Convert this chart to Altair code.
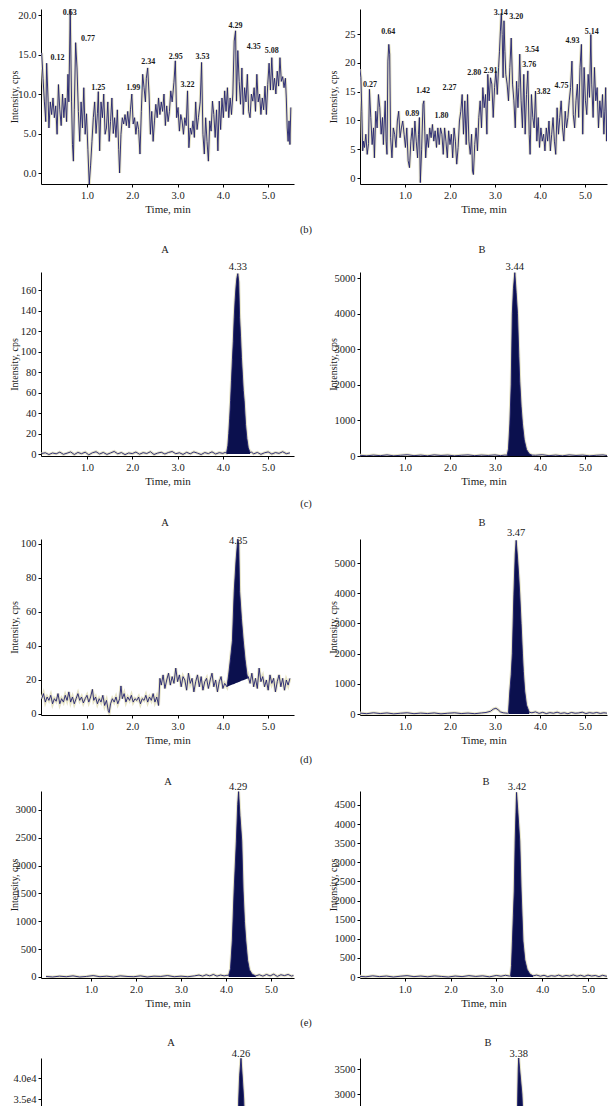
import altair as alt
import pandas as pd

FONT = "Liberation Serif"
NAVY = "#1f1f6e"
FILL = "#0b104e"
HALO = "#e6e3c6"
INK = "#1a1a1a"

X_TICKS = [1, 2, 3, 4, 5]
X_TITLE = "Time, min"
Y_TITLE = "Intensity, cps"
PANEL_TAGS = ["(b)", "(c)", "(d)", "(e)"]
SIDE_TITLES = ["A", "B"]

# ---------------- row (b) : noisy blanks ----------------
r1l_trace = [(0.00,15.2),(0.03,12.0),(0.06,9.0),(0.09,6.5),(0.11,13.9),(0.14,9.5),(0.16,5.7),(0.19,9.0),(0.22,7.4),(0.25,9.5),
 (0.28,7.0),(0.31,8.5),(0.34,4.9),(0.37,11.2),(0.40,8.0),(0.43,6.0),(0.46,10.0),(0.49,7.0),(0.52,9.5),(0.55,6.5),
 (0.58,12.5),(0.60,9.0),(0.63,20.8),(0.66,9.0),(0.68,3.6),(0.70,1.5),(0.72,8.0),(0.75,16.5),(0.78,13.3),(0.81,7.8),
 (0.84,4.0),(0.87,9.0),(0.90,5.7),(0.93,10.8),(0.96,4.9),(0.99,7.5),(1.02,3.0),(1.05,-1.4),(1.08,1.0),(1.11,4.0),
 (1.14,7.0),(1.17,9.0),(1.20,5.0),(1.23,7.5),(1.25,10.3),(1.28,2.8),(1.31,9.0),(1.34,7.0),(1.37,10.0),(1.40,4.9),
 (1.43,5.7),(1.46,9.0),(1.49,4.0),(1.52,6.5),(1.55,9.5),(1.58,5.0),(1.61,7.0),(1.64,4.5),(1.67,8.0),(1.70,3.0),
 (1.72,0.0),(1.75,4.9),(1.78,7.0),(1.81,6.2),(1.84,7.4),(1.87,6.0),(1.90,7.8),(1.93,5.7),(1.96,8.0),(1.99,10.0),
 (2.02,6.2),(2.05,7.0),(2.08,4.9),(2.11,6.5),(2.14,5.5),(2.17,2.4),(2.20,7.8),(2.23,12.5),(2.26,10.8),(2.29,9.0),
 (2.31,12.0),(2.34,13.3),(2.37,10.0),(2.40,4.9),(2.43,7.8),(2.46,4.0),(2.49,6.6),(2.52,8.7),(2.55,7.0),(2.58,9.5),
 (2.61,7.4),(2.64,9.0),(2.67,7.8),(2.70,10.0),(2.73,6.0),(2.76,8.5),(2.79,6.5),(2.82,7.8),(2.85,10.4),(2.88,9.0),
 (2.92,11.5),(2.95,14.2),(2.98,7.0),(3.01,8.3),(3.04,5.3),(3.07,7.4),(3.10,6.6),(3.13,4.9),(3.16,7.0),(3.19,6.0),
 (3.22,10.4),(3.25,3.2),(3.28,5.7),(3.31,4.9),(3.34,6.6),(3.37,4.5),(3.40,9.0),(3.43,5.5),(3.46,7.0),(3.50,9.0),
 (3.53,14.0),(3.56,4.9),(3.59,2.4),(3.62,7.0),(3.65,4.0),(3.68,1.5),(3.71,6.6),(3.74,5.3),(3.77,9.1),(3.80,7.4),
 (3.83,4.5),(3.86,8.0),(3.89,2.8),(3.92,9.1),(3.95,5.5),(3.98,9.5),(4.01,7.0),(4.04,10.4),(4.07,7.8),(4.10,10.8),
 (4.13,7.0),(4.16,9.5),(4.19,7.4),(4.22,10.0),(4.25,16.7),(4.28,18.0),(4.30,9.1),(4.33,15.5),(4.36,11.6),(4.39,8.7),
 (4.42,13.3),(4.45,7.4),(4.48,10.8),(4.51,9.0),(4.54,12.5),(4.57,7.8),(4.60,7.0),(4.63,10.0),(4.66,9.1),(4.69,10.8),
 (4.72,7.8),(4.75,12.5),(4.78,9.0),(4.81,10.0),(4.84,7.4),(4.87,9.5),(4.90,8.0),(4.93,11.0),(4.96,7.4),(4.99,11.2),
 (5.02,13.9),(5.05,10.5),(5.08,14.6),(5.11,10.5),(5.14,12.0),(5.17,10.0),(5.20,12.9),(5.23,11.0),(5.26,14.6),(5.29,11.6),
 (5.32,12.2),(5.35,10.8),(5.38,12.0),(5.40,9.5),(5.42,5.7),(5.44,4.0),(5.46,6.6),(5.48,3.6),(5.50,8.3)]
r1l_labels = [("0.63",0.62,20.2),("0.12",0.35,14.5),("0.77",1.02,17.0),("1.25",1.25,10.7),("1.99",2.02,10.7),
 ("2.34",2.35,14.05),("2.95",2.96,14.7),("3.22",3.22,11.1),("3.53",3.55,14.7),("4.29",4.28,18.6),
 ("4.35",4.68,15.9),("5.08",5.08,15.4)]

r1r_trace = [(0.00,18.9),(0.02,17.4),(0.04,11.6),(0.06,4.7),(0.08,6.4),(0.10,5.3),(0.13,7.6),(0.16,4.1),(0.19,6.0),(0.21,15.4),
 (0.24,10.5),(0.27,5.8),(0.30,8.7),(0.32,3.5),(0.35,11.6),(0.38,8.7),(0.41,14.5),(0.44,12.2),(0.47,7.6),(0.50,10.5),
 (0.52,5.8),(0.54,9.9),(0.56,13.4),(0.58,6.4),(0.60,4.1),(0.62,20.3),(0.64,23.2),(0.66,21.5),(0.68,7.0),(0.71,3.5),
 (0.74,8.7),(0.77,7.6),(0.80,5.3),(0.83,9.9),(0.86,11.6),(0.89,7.0),(0.92,8.7),(0.95,9.9),(0.98,7.6),(1.01,5.3),
 (1.04,8.7),(1.07,3.0),(1.10,1.8),(1.13,6.4),(1.16,8.7),(1.19,4.7),(1.22,9.9),(1.25,6.4),(1.28,3.5),(1.30,7.6),
 (1.32,10.5),(1.34,-0.8),(1.37,5.0),(1.40,12.8),(1.42,13.4),(1.44,8.0),(1.46,3.5),(1.49,7.6),(1.52,5.3),(1.55,8.7),
 (1.58,7.0),(1.61,9.3),(1.64,6.4),(1.67,8.2),(1.70,5.3),(1.73,8.7),(1.76,5.8),(1.79,8.7),(1.82,7.6),(1.85,4.1),
 (1.88,8.7),(1.91,6.4),(1.94,3.5),(1.97,8.2),(2.00,5.8),(2.03,7.6),(2.06,3.5),(2.09,8.7),(2.12,6.4),(2.15,2.4),
 (2.18,5.3),(2.21,9.9),(2.24,11.6),(2.27,14.5),(2.30,7.6),(2.33,13.4),(2.36,5.8),(2.39,14.5),(2.42,6.4),(2.45,4.1),
 (2.48,7.6),(2.50,1.2),(2.52,0.6),(2.55,5.8),(2.58,8.7),(2.61,4.7),(2.64,10.5),(2.67,13.4),(2.70,8.7),(2.73,15.7),
 (2.76,12.2),(2.79,14.5),(2.82,7.6),(2.84,18.0),(2.87,13.4),(2.90,17.4),(2.93,16.3),(2.96,10.5),(2.99,15.7),(3.02,18.6),
 (3.05,14.5),(3.08,19.2),(3.10,22.0),(3.12,25.5),(3.14,28.6),(3.16,24.9),(3.18,17.4),(3.20,27.3),(3.22,22.0),(3.24,18.0),
 (3.27,16.3),(3.30,13.4),(3.33,19.2),(3.36,24.3),(3.39,16.3),(3.42,13.4),(3.45,8.7),(3.48,16.8),(3.51,12.2),(3.53,15.7),
 (3.55,21.5),(3.58,13.4),(3.61,8.7),(3.64,18.0),(3.67,7.6),(3.70,14.5),(3.73,18.6),(3.76,7.6),(3.78,4.1),(3.81,14.5),
 (3.84,10.5),(3.87,8.7),(3.90,15.1),(3.93,6.4),(3.96,10.5),(3.99,5.3),(4.02,8.7),(4.05,6.4),(4.08,7.6),(4.11,4.7),
 (4.14,8.7),(4.17,6.4),(4.20,9.9),(4.23,4.7),(4.26,7.6),(4.29,10.5),(4.32,6.4),(4.35,4.1),(4.38,12.2),(4.41,7.6),
 (4.44,10.5),(4.47,13.4),(4.50,8.7),(4.53,6.4),(4.56,11.6),(4.59,8.7),(4.62,10.5),(4.65,13.4),(4.68,15.7),(4.71,20.3),
 (4.74,11.0),(4.77,8.7),(4.80,13.4),(4.83,16.3),(4.86,10.5),(4.89,19.2),(4.92,23.2),(4.95,7.6),(4.98,19.2),(5.01,13.4),
 (5.04,11.0),(5.07,18.0),(5.10,14.0),(5.13,24.9),(5.15,16.3),(5.18,10.5),(5.21,19.2),(5.24,13.4),(5.27,15.7),(5.30,8.7),
 (5.33,13.4),(5.36,10.5),(5.39,14.5),(5.42,7.6),(5.44,11.6),(5.46,15.7),(5.48,6.4),(5.50,13.4)]
r1r_labels = [("3.14",3.13,28.56),("3.20",3.47,28.0),("0.64",0.63,25.4),("0.27",0.22,16.1),("0.89",1.16,11.1),
 ("1.42",1.40,15.1),("1.80",1.81,10.8),("2.27",1.99,15.7),("2.80",2.54,18.3),("2.91",2.90,18.5),
 ("3.54",3.82,22.2),("3.76",3.76,19.6),("3.82",4.08,15.0),("4.75",4.48,16.0),("4.93",4.72,23.7),("5.14",5.15,25.4)]

# ---------------- row (c) ----------------
r2l_base = [(0.00,0.5),(0.08,1.2),(0.16,-0.5),(0.24,1.0),(0.32,0.2),(0.40,1.8),(0.48,-0.3),(0.56,0.8),(0.64,2.0),(0.72,-0.5),
 (0.80,1.5),(0.88,0.3),(0.96,1.8),(1.04,-0.8),(1.12,1.2),(1.20,2.2),(1.28,0.0),(1.36,1.5),(1.44,-0.4),(1.52,1.0),
 (1.60,2.5),(1.68,0.2),(1.76,1.4),(1.84,-0.6),(1.92,1.0),(2.00,0.4),(2.08,1.9),(2.16,-0.2),(2.24,1.3),(2.32,0.5),
 (2.40,2.2),(2.48,-0.5),(2.56,0.9),(2.64,1.7),(2.72,0.0),(2.80,1.5),(2.88,2.4),(2.96,0.3),(3.04,1.2),(3.12,-0.4),
 (3.20,1.6),(3.28,0.2),(3.36,2.0),(3.44,0.8),(3.52,-0.5),(3.60,1.4),(3.68,0.4),(3.76,2.1),(3.84,0.0),(3.92,1.3),
 (4.00,0.6),(4.05,1.5),(4.63,1.8),(4.68,0.2),(4.76,1.5),(4.84,-0.3),(4.92,1.2),(5.00,2.0),(5.08,0.0),(5.16,1.4),
 (5.24,0.6),(5.32,2.2),(5.40,0.3),(5.48,1.1)]
r2l_peak = [(4.08,0.8),(4.11,8),(4.13,20),(4.15,35),(4.17,52),(4.19,72),(4.21,92),(4.23,110),(4.25,133),(4.27,150),
 (4.29,163),(4.31,172),(4.33,176),(4.35,168),(4.37,133),(4.39,115),(4.41,94),(4.43,78),(4.45,62),(4.47,52),
 (4.50,29),(4.53,15),(4.56,6),(4.60,1.5)]
r2l_labels = [("4.33",4.33,182.4)]

r2r_base = [(0.00,20),(0.15,5),(0.30,25),(0.45,10),(0.60,30),(0.75,5),(0.90,20),(1.05,35),(1.20,10),(1.35,25),
 (1.50,5),(1.65,30),(1.80,15),(1.95,25),(2.10,5),(2.25,20),(2.40,30),(2.55,10),(2.70,25),(2.85,15),
 (3.00,30),(3.12,10),(3.22,25),(3.90,20),(4.05,35),(4.20,10),(4.35,25),(4.50,5),(4.65,30),(4.80,15),
 (4.95,25),(5.10,5),(5.25,20),(5.40,30),(5.50,10)]
r2r_peak = [(3.27,20),(3.30,200),(3.33,900),(3.36,2000),(3.385,4000),(3.41,4700),(3.44,5150),(3.47,4600),(3.50,4000),
 (3.53,2800),(3.55,2100),(3.58,1400),(3.61,900),(3.65,450),(3.70,180),(3.76,60),(3.82,25)]
r2r_labels = [("3.44",3.44,5309)]

# ---------------- row (d) ----------------
r3l_base = [(0.00,9),(0.04,12),(0.08,7),(0.12,10),(0.16,8),(0.20,11),(0.24,6),(0.28,9),(0.32,7.5),(0.36,12),
 (0.40,6),(0.44,9),(0.48,7),(0.52,11),(0.56,8),(0.60,13),(0.64,7),(0.68,10),(0.72,6),(0.76,9),
 (0.80,12),(0.84,8),(0.88,10),(0.92,6.5),(0.96,9),(1.00,11),(1.04,7),(1.08,10),(1.12,14.5),(1.15,8),
 (1.19,10),(1.23,6),(1.27,9),(1.31,7),(1.35,11),(1.39,5),(1.43,8),(1.47,2),(1.49,0.8),(1.52,6),
 (1.56,9),(1.60,7),(1.64,10),(1.68,6),(1.72,9),(1.75,16.5),(1.78,9),(1.82,12),(1.86,7),(1.90,10),
 (1.94,8),(1.98,11),(2.02,7),(2.06,9),(2.10,8),(2.14,10),(2.18,6),(2.22,9),(2.26,8),(2.30,11),
 (2.34,7),(2.38,10),(2.42,8),(2.46,12),(2.50,7),(2.54,10),(2.58,5),(2.61,21),(2.64,17),(2.68,23),
 (2.72,15),(2.76,20),(2.80,24),(2.84,17),(2.88,22),(2.92,18),(2.96,27),(3.00,19),(3.04,23),(3.08,16),
 (3.12,22),(3.16,20),(3.20,14),(3.24,24),(3.28,18),(3.32,21),(3.36,13),(3.40,19),(3.44,23),(3.48,16),
 (3.52,22),(3.56,14),(3.60,19),(3.64,21),(3.68,15),(3.72,20),(3.76,24),(3.80,16),(3.84,20),(3.88,13),
 (3.92,19),(3.96,22),(4.00,15),(4.04,18),(4.56,22),(4.60,18),(4.64,24),(4.68,16),(4.72,21),(4.76,15),
 (4.80,27),(4.84,19),(4.88,22),(4.92,16),(4.96,20),(5.00,14),(5.04,23),(5.08,18),(5.12,21),(5.16,13),
 (5.20,19),(5.24,23),(5.28,16),(5.32,21),(5.36,14),(5.40,20),(5.44,17),(5.48,21)]
r3l_peak = [(4.09,16),(4.13,23.5),(4.17,33),(4.21,43),(4.25,72),(4.29,90),(4.33,103),(4.35,100),(4.37,72),
 (4.41,56),(4.45,43),(4.49,32),(4.53,23.5),(4.55,21)]
r3l_peak_floor = [16.0,16.4,16.9,17.3,17.7,18.2,18.6,18.8,19.0,19.5,19.9,20.3,20.8,21.0]
r3l_labels = [("4.35",4.34,102)]

r3r_base = [(0.00,30),(0.15,10),(0.30,40),(0.45,15),(0.60,35),(0.75,5),(0.90,25),(1.05,40),(1.20,10),(1.35,30),
 (1.50,15),(1.65,35),(1.80,5),(1.95,25),(2.10,40),(2.25,15),(2.40,30),(2.55,10),(2.70,35),(2.80,50),
 (2.90,90),(2.96,160),(3.02,190),(3.07,140),(3.12,70),(3.18,40),(3.24,30),(3.28,25),(3.82,40),(3.90,70),
 (3.98,20),(4.06,55),(4.14,15),(4.22,45),(4.30,25),(4.38,60),(4.46,20),(4.54,40),(4.62,10),(4.70,50),
 (4.78,25),(4.86,35),(4.94,60),(5.02,15),(5.10,45),(5.18,25),(5.26,50),(5.34,20),(5.42,40),(5.50,25)]
r3r_peak = [(3.30,40),(3.33,760),(3.36,1300),(3.385,2000),(3.42,3970),(3.45,5300),(3.47,5750),(3.50,5200),(3.53,4500),
 (3.55,3970),(3.58,3000),(3.61,1990),(3.63,1400),(3.66,760),(3.70,300),(3.76,60)]
r3r_labels = [("3.47",3.47,6000)]

# ---------------- row (e) ----------------
r4l_base = [(0.00,10),(0.15,0),(0.30,15),(0.45,5),(0.60,20),(0.75,0),(0.90,10),(1.05,25),(1.20,5),(1.35,15),
 (1.50,0),(1.65,20),(1.80,10),(1.95,5),(2.10,20),(2.25,0),(2.40,15),(2.55,10),(2.70,25),(2.85,5),
 (3.00,15),(3.15,5),(3.30,20),(3.40,35),(3.48,15),(3.56,40),(3.64,20),(3.72,45),(3.80,15),(3.88,35),
 (3.96,20),(4.02,30),(4.74,40),(4.82,15),(4.90,45),(4.98,20),(5.06,50),(5.14,10),(5.22,40),(5.30,25),
 (5.38,45),(5.46,15),(5.50,30)]
r4l_peak = [(4.06,30),(4.10,150),(4.14,650),(4.18,1545),(4.23,2440),(4.26,3100),(4.28,3330),(4.31,2900),(4.35,2440),
 (4.38,1545),(4.41,1000),(4.44,650),(4.48,300),(4.52,130),(4.58,50),(4.66,20)]
r4l_labels = [("4.29",4.27,3413)]

r4r_base = [(0.00,20),(0.15,5),(0.30,30),(0.45,10),(0.60,25),(0.75,0),(0.90,20),(1.05,35),(1.20,10),(1.35,25),
 (1.50,5),(1.65,30),(1.80,15),(1.95,0),(2.10,25),(2.25,10),(2.40,35),(2.55,15),(2.70,30),(2.85,5),
 (3.00,40),(3.10,20),(3.20,45),(3.28,25),(3.88,50),(3.96,20),(4.04,45),(4.12,10),(4.20,35),(4.28,20),
 (4.36,50),(4.44,15),(4.52,40),(4.60,25),(4.68,55),(4.76,20),(4.84,45),(4.92,15),(5.00,50),(5.08,25),
 (5.16,40),(5.24,10),(5.32,45),(5.40,20),(5.50,35)]
r4r_peak = [(3.31,30),(3.33,300),(3.35,940),(3.37,1600),(3.39,2250),(3.41,3560),(3.44,4830),(3.47,4300),(3.51,3560),
 (3.54,2250),(3.58,940),(3.62,450),(3.67,200),(3.73,80),(3.80,30)]
r4r_labels = [("3.42",3.45,4971)]

# ---------------- row (f), cut by the page ----------------
r5l_base = [(0.0,50),(0.5,150),(1.0,80),(1.5,200),(2.0,100),(2.5,180),(3.0,120),(3.5,250),(3.8,200),(4.0,300),
 (4.08,500),(4.8,300),(5.0,200),(5.2,350),(5.40,150)]
r5l_peak = [(4.10,800),(4.14,5000),(4.18,20000),(4.21,35000),(4.23,40500),(4.26,44700),(4.29,40000),(4.32,35000),
 (4.36,22000),(4.40,11000),(4.45,4500),(4.52,1500),(4.60,600)]
r5l_labels = [("4.26",4.26,45700)]

r5r_base = [(0.0,20),(0.5,40),(1.0,10),(1.5,35),(2.0,15),(2.5,30),(3.0,20),(3.2,40),(3.8,40),(4.2,20),
 (4.6,45),(5.0,15),(5.3,30)]
r5r_peak = [(3.25,60),(3.30,700),(3.33,1500),(3.36,3000),(3.37,3500),(3.38,3720),(3.40,3500),(3.45,3000),(3.50,2000),
 (3.55,1000),(3.62,400),(3.70,100)]
r5r_labels = [("3.38",3.38,3800)]

# y tick values per panel
r1l_yt = [0, 5, 10, 15, 20]
r1r_yt = [0, 5, 10, 15, 20, 25]
r2l_yt = [0, 20, 40, 60, 80, 100, 120, 140, 160]
r2r_yt = [0, 1000, 2000, 3000, 4000, 5000]
r3l_yt = [0, 20, 40, 60, 80, 100]
r3r_yt = [0, 1000, 2000, 3000, 4000, 5000]
r4l_yt = [0, 500, 1000, 1500, 2000, 2500, 3000]
r4r_yt = [0, 500, 1000, 1500, 2000, 2500, 3000, 3500, 4000, 4500]
r5l_yt = [0, 5000, 10000, 15000, 20000, 25000, 30000, 35000, 40000]
r5r_yt = [0, 500, 1000, 1500, 2000, 2500, 3000, 3500]


def panel(trace, peak, labels, xdom, ydom, yticks, w, h, yfmt="d", yexpr=None,
          floor=None, lab_size=10.5, lab_weight="normal", halo_w=3.0):
    pts = sorted(trace + peak)
    tr = pd.DataFrame(pts, columns=["t", "v"])
    xax = dict(values=X_TICKS, format=".1f", title=X_TITLE, grid=False, domainColor="#000",
               domainWidth=1, tickColor="#000", tickSize=3, labelFontSize=10.5, labelColor=INK,
               labelPadding=3, titleFontSize=11, titleFontWeight="normal", titleColor=INK,
               titlePadding=3, labelFlush=False)
    yax = dict(values=yticks, format=yfmt, title=Y_TITLE, grid=False, domainColor="#000",
               domainWidth=1, tickColor="#000", tickSize=3, labelFontSize=10.5, labelColor=INK,
               labelPadding=2, titleFontSize=10, titleFontWeight="normal", titleColor=INK,
               titlePadding=2, minExtent=20, maxExtent=20, labelFlush=False)
    if yexpr is not None:
        yax["labelExpr"] = yexpr
    x = alt.X("t:Q", scale=alt.Scale(domain=xdom, nice=False, zero=False), axis=alt.Axis(**xax))
    y = alt.Y("v:Q", scale=alt.Scale(domain=ydom, nice=False, zero=False), axis=alt.Axis(**yax))
    halo = alt.Chart(tr).mark_line(color=HALO, strokeWidth=halo_w, clip=True).encode(x=x, y=y)
    line = alt.Chart(tr).mark_line(color=NAVY, strokeWidth=0.9, clip=True).encode(x=x, y=y)
    layers = [halo]
    if peak:
        pk = pd.DataFrame(peak, columns=["t", "v"])
        if floor is not None:
            pk["b"] = floor
            y2 = alt.Y2("b:Q")
        else:
            y2 = alt.datum(0)
        layers.append(alt.Chart(pk).mark_area(color=FILL, clip=True).encode(x=x, y=y, y2=y2))
    layers.append(line)
    lab = pd.DataFrame(labels, columns=["s", "t", "v"])
    layers.append(alt.Chart(lab).mark_text(font=FONT, fontSize=lab_size, fontWeight=lab_weight,
                                           color=INK, baseline="middle", align="center")
                  .encode(x=x, y=y, text="s:N"))
    return alt.layer(*layers).properties(width=w, height=h)


def spacer(w, h, items):
    layers = []
    for s, xr, yr in items:
        layers.append(alt.Chart(pd.DataFrame({"s": [s]}))
                      .mark_text(font=FONT, fontSize=10.5, color=INK, baseline="middle", align="center")
                      .encode(text="s:N", x=alt.value(xr), y=alt.value(yr)))
    return alt.layer(*layers).properties(width=w, height=h)


LW = 253
RW = 247
cells = [
    panel(r1l_trace, [], r1l_labels, [-0.015, 5.57], [-1.39, 20.76], r1l_yt, LW, 175, yfmt=".1f",
          lab_size=8, lab_weight="bold"),
    panel(r1r_trace, [], r1r_labels, [0.0, 5.489], [-1.04, 29.34], r1r_yt, RW, 175,
          lab_size=8, lab_weight="bold"),
    spacer(LW, 88, [(PANEL_TAGS[0], 265, 46), (SIDE_TITLES[0], 124, 66)]),
    spacer(RW, 88, [(SIDE_TITLES[1], 122, 66)]),
    panel(r2l_base, r2l_peak, r2l_labels, [-0.015, 5.57], [-1.95, 177.6], r2l_yt, LW, 184),
    panel(r2r_base, r2r_peak, r2r_labels, [0.0, 5.489], [0, 5169], r2r_yt, RW, 184),
    spacer(LW, 83, [(PANEL_TAGS[1], 265, 48), (SIDE_TITLES[0], 124, 67)]),
    spacer(RW, 83, [(SIDE_TITLES[1], 122, 67)]),
    panel(r3l_base, r3l_peak, r3l_labels, [-0.015, 5.57], [-0.59, 102.94], r3l_yt, LW, 176,
          floor=r3l_peak_floor),
    panel(r3r_base, r3r_peak, r3r_labels, [0.0, 5.489], [-33, 5795], r3r_yt, RW, 176),
    spacer(LW, 76, [(PANEL_TAGS[2], 265, 45), (SIDE_TITLES[0], 127, 67)]),
    spacer(RW, 76, [(SIDE_TITLES[1], 126, 67)]),
    panel(r4l_base, r4l_peak, r4l_labels, [-0.111, 5.511], [-18, 3341], r4l_yt, LW, 187),
    panel(r4r_base, r4r_peak, r4r_labels, [0.022, 5.415], [-26, 4866], r4r_yt, RW, 187),
    spacer(LW, 80, [(PANEL_TAGS[3], 265, 45), (SIDE_TITLES[0], 130, 65)]),
    spacer(RW, 80, [(SIDE_TITLES[1], 128, 65)]),
    panel(r5l_base, r5l_peak, r5l_labels, [-0.184, 5.438], [0, 44762], r5l_yt, LW, 188,
          yexpr="datum.value == 0 ? '0' : format(datum.value / 10000, '.1f') + 'e4'"),
    panel(r5r_base, r5r_peak, r5r_labels, [-0.085, 5.308], [-40, 3720], r5r_yt, RW, 188),
]

chart = alt.concat(*cells, columns=2, spacing={"row": 0, "column": 66}, bounds="flush").properties(
    padding=0
).configure(font=FONT, background="white").configure_view(stroke="transparent").configure_axis(
    titleFontWeight="normal"
)

chart.save("out.html", embed_options={"renderer": "svg", "actions": False})
